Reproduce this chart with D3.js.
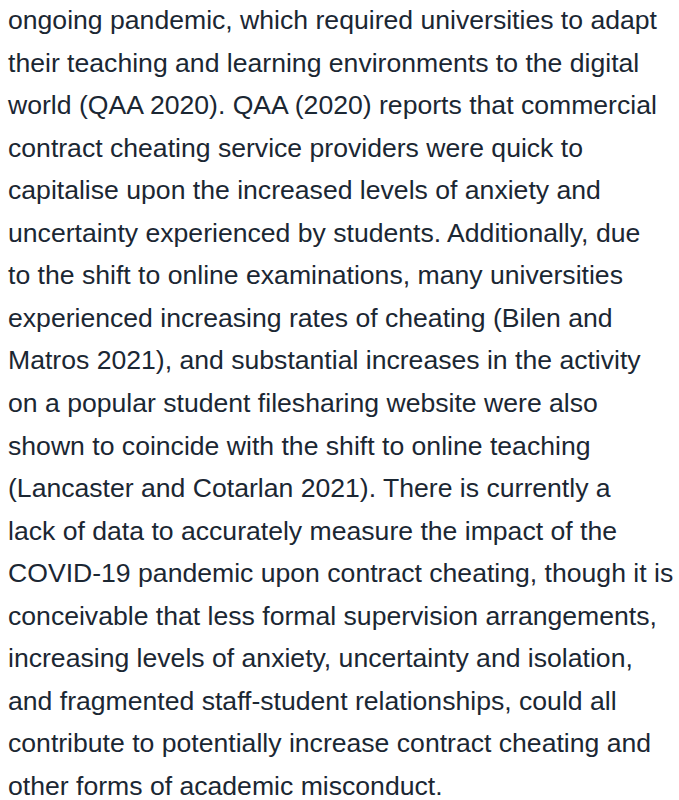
<!DOCTYPE html>
<html>
<head>
<meta charset="utf-8">
<script src="https://cdn.jsdelivr.net/npm/d3@7"></script>
<style>
  html, body { margin: 0; padding: 0; background: #fff; }
  svg text { font-family: "Liberation Sans", Arial, Helvetica, sans-serif; fill: #1b2733; }
</style>
</head>
<body>
<svg width="679" height="800"></svg>
<script>
var lines = [
  "ongoing pandemic, which required universities to adapt",
  "their teaching and learning environments to the digital",
  "world (QAA 2020). QAA (2020) reports that commercial",
  "contract cheating service providers were quick to",
  "capitalise upon the increased levels of anxiety and",
  "uncertainty experienced by students. Additionally, due",
  "to the shift to online examinations, many universities",
  "experienced increasing rates of cheating (Bilen and",
  "Matros 2021), and substantial increases in the activity",
  "on a popular student filesharing website were also",
  "shown to coincide with the shift to online teaching",
  "(Lancaster and Cotarlan 2021). There is currently a",
  "lack of data to accurately measure the impact of the",
  "COVID-19 pandemic upon contract cheating, though it is",
  "conceivable that less formal supervision arrangements,",
  "increasing levels of anxiety, uncertainty and isolation,",
  "and fragmented staff-student relationships, could all",
  "contribute to potentially increase contract cheating and",
  "other forms of academic misconduct."
];

var svg = d3.select("svg"),
    width = +svg.attr("width"),
    height = +svg.attr("height");

var fontSize = 26.6;

// line index -> baseline
var y = d3.scaleLinear()
    .domain([0, lines.length - 1])
    .range([29, 795]);

svg.selectAll("text.line")
    .data(lines)
  .enter().append("text")
    .attr("class", "line")
    .attr("x", 8)
    .attr("y", (d, i) => y(i))
    .style("font-size", fontSize + "px")
    .text(d => d);
</script>
</body>
</html>
